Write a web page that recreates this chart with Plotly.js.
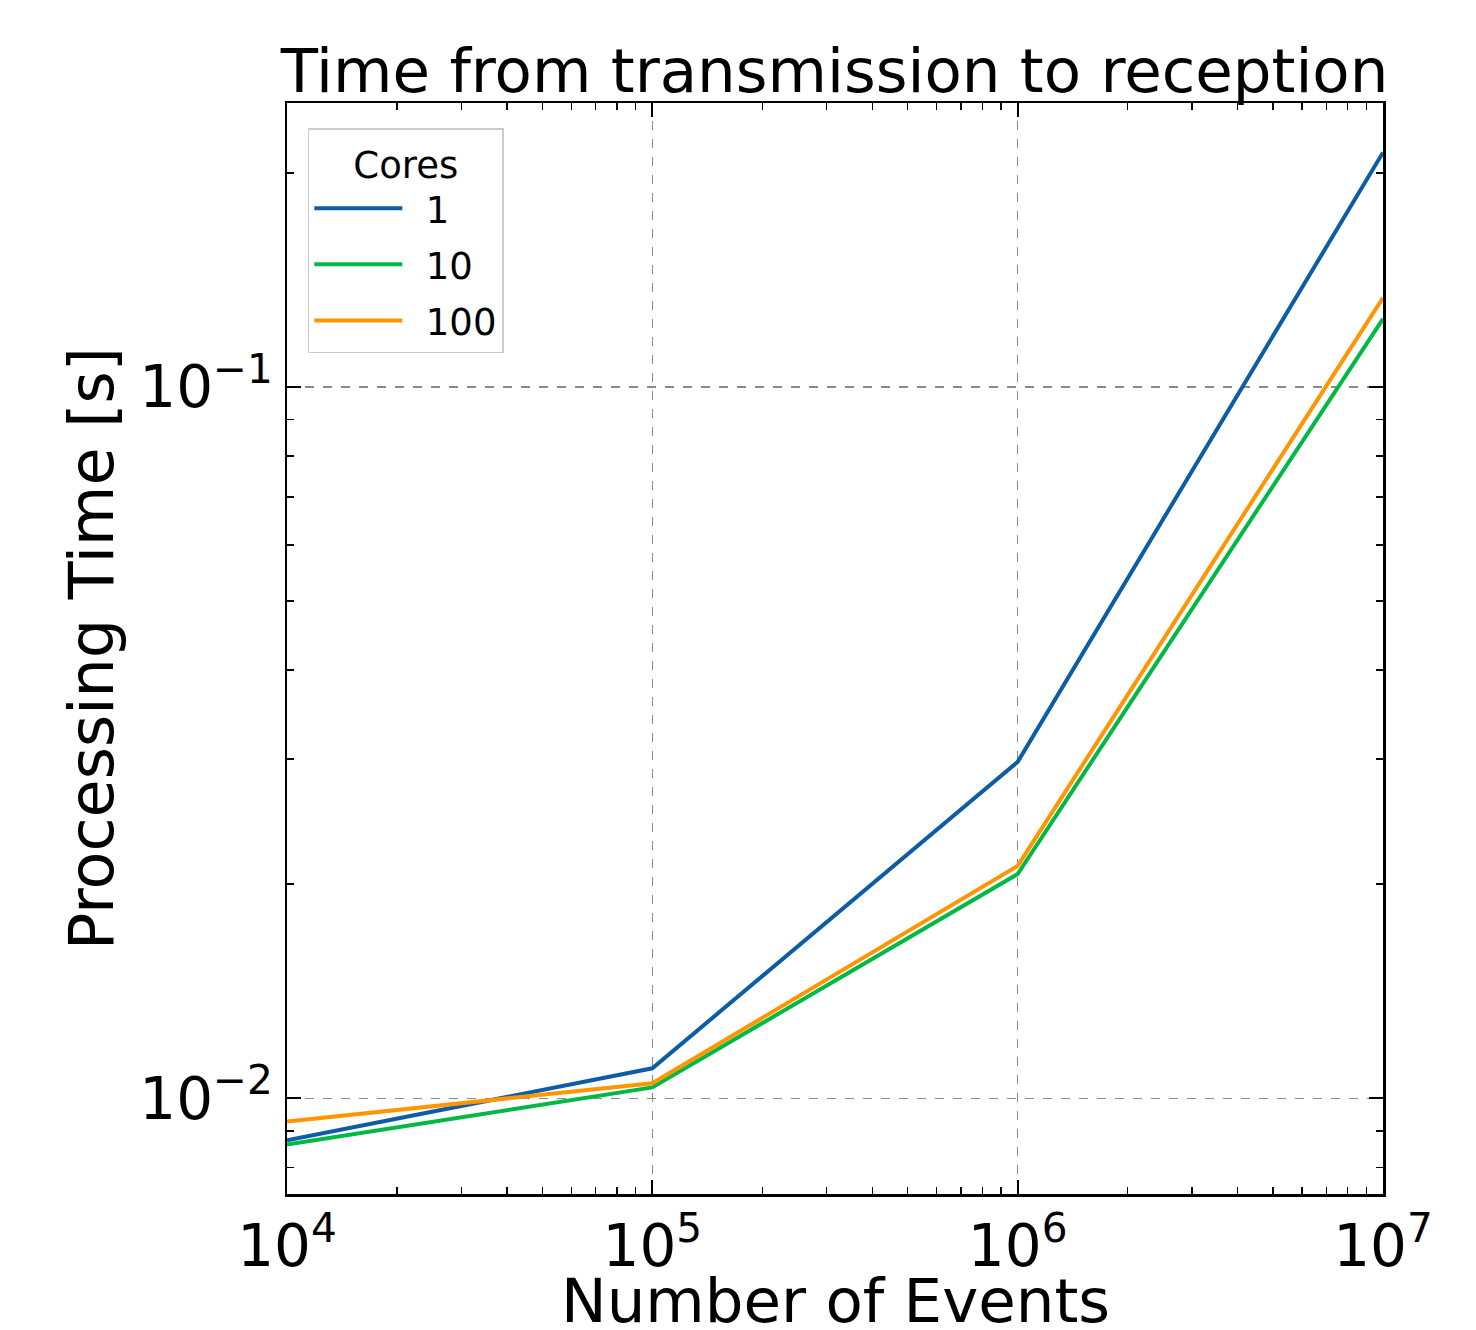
<!DOCTYPE html>
<html>
<head>
<meta charset="utf-8">
<script src="https://cdn.plot.ly/plotly-3.0.1.min.js"></script>
<style>html,body{margin:0;padding:0;background:#fff;}#chart{width:1476px;height:1330px;}</style>
</head>
<body>
<div id="chart"></div>
<script>
const events = [1e4, 1e5, 1e6, 1e7];
const cores = ["1", "10", "100"];
const time1 = [0.00873, 0.01102, 0.02972, 0.2137];
const time10 = [0.00861, 0.01036, 0.02067, 0.1247];
const time100 = [0.00928, 0.01050, 0.02122, 0.1335];
const colors = ["#0C5DA5", "#00B945", "#FF9500"];
const xTickVals = [1e4, 1e5, 1e6, 1e7];
const xTickText = ["10<sup>4</sup>", "10<sup>5</sup>", "10<sup>6</sup>", "10<sup>7</sup>"];
const yTickVals = [0.01, 0.1];
const yTickText = ["10<sup>\u22122</sup>", "10<sup>\u22121</sup>"];
const xTitle = "Number of Events";
const yTitle = "Processing Time [s]";
const chartTitle = "Time from transmission to reception";

const series = [time1, time10, time100];
const traces = series.map((s, i) => ({
  x: events, y: s, type: "scatter", mode: "lines", name: "\u2002" + cores[i],
  legendgroup: "g" + i,
  line: {color: colors[i], width: 4}
}));

const font = "DejaVu Sans, sans-serif";
const axisCommon = {
  type: "log",
  showline: true, linecolor: "#000", linewidth: 2.5, mirror: "ticks",
  ticks: "inside", ticklen: 14, tickwidth: 2, tickcolor: "#000",
  showgrid: true, gridcolor: "#8a8a8a", gridwidth: 1.5, griddash: "dash",
  zeroline: false,
  tickfont: {family: font, size: 58, color: "#000"},
  minor: {ticks: "inside", ticklen: 7, tickwidth: 1.5, tickcolor: "#000", showgrid: false, dtick: "D1"}
};

const layout = {
  width: 1476, height: 1330,
  margin: {l: 287, r: 93, t: 103, b: 136},
  paper_bgcolor: "#fff", plot_bgcolor: "#fff",
  font: {family: font, color: "#000"},
  title: {text: chartTitle, font: {family: font, size: 61, color: "#000"},
          x: 0.5654, xanchor: "center", y: 0.947, yanchor: "middle"},
  xaxis: Object.assign({}, axisCommon, {
    range: [4, 7], tickvals: xTickVals, ticktext: xTickText
  }),
  yaxis: Object.assign({}, axisCommon, {
    range: [-2.1345, -0.6007], tickvals: yTickVals, ticktext: yTickText,
    title: {text: yTitle, font: {family: font, size: 62, color: "#000"}, standoff: 6}
  }),
  annotations: [{
    text: xTitle, xref: "paper", yref: "paper", x: 0.5, y: -0.098,
    xanchor: "center", yanchor: "middle", showarrow: false,
    font: {family: font, size: 61, color: "#000"}
  }],
  showlegend: true,
  legend: {
    x: 0.019, y: 0.977, xanchor: "left", yanchor: "top",
    bgcolor: "rgba(255,255,255,0.9)", bordercolor: "#cccccc", borderwidth: 1.5,
    itemwidth: 88, tracegroupgap: 5,
    font: {family: font, size: 37, color: "#000"},
    title: {text: "Cores", side: "top center", font: {family: font, size: 37, color: "#000"}}
  }
};

Plotly.newPlot("chart", traces, layout, {displayModeBar: false, staticPlot: true});
</script>
</body>
</html>
